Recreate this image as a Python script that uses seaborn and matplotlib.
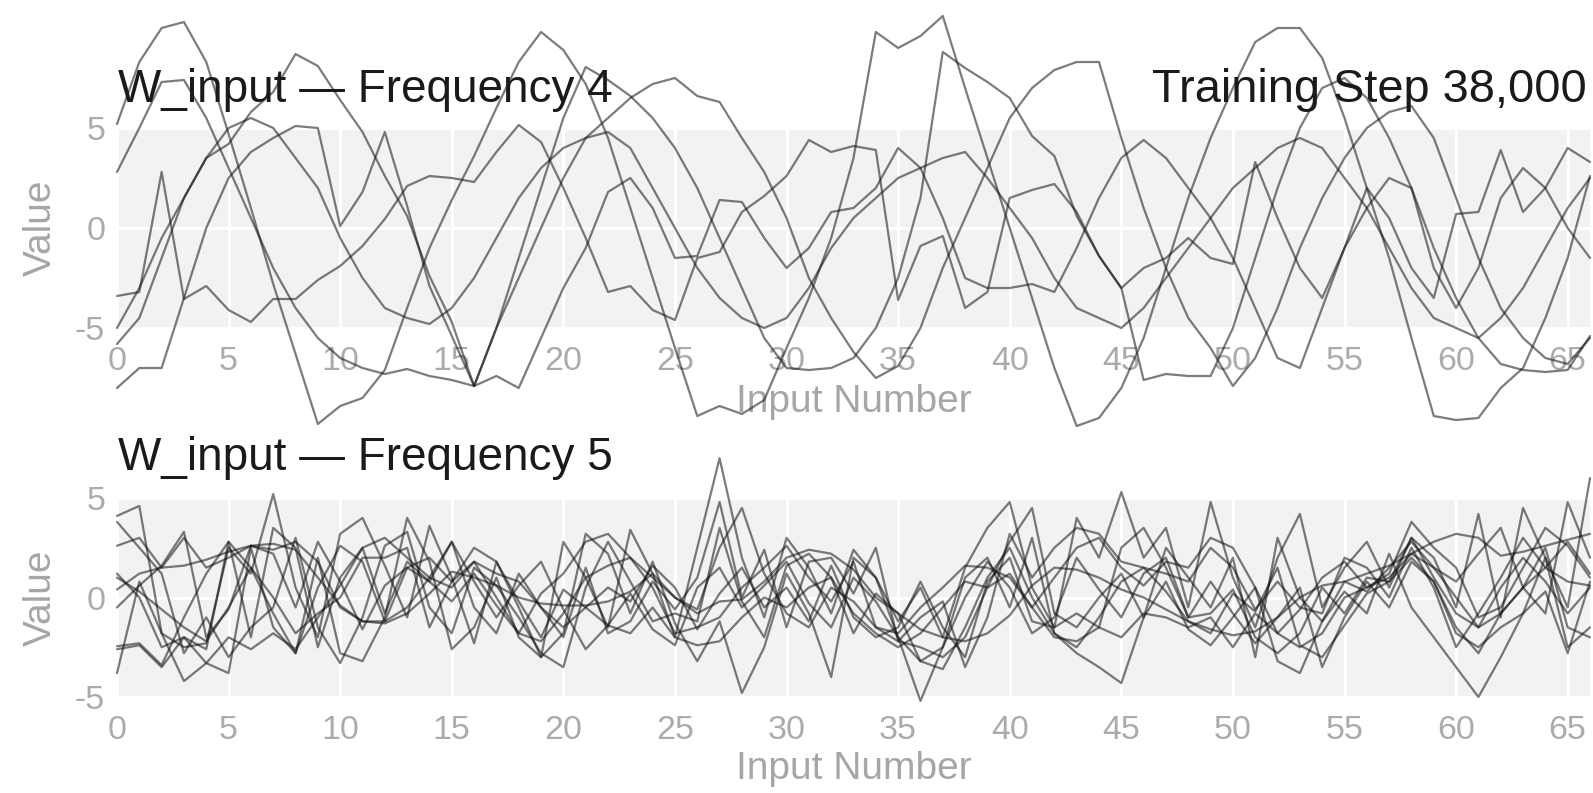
import matplotlib
matplotlib.use("Agg")
import matplotlib.pyplot as plt
import seaborn as sns
import pandas as pd

# ---------------- data ----------------
inputs = list(range(67))
x_ticks = list(range(0, 66, 5))
y_ticks = [-5, 0, 5]

freq4_line1 = [5.2, 8.3, 10.0, 10.3, 8.3, 4.7, 1.0, -2.8, -6.3, -9.8,
               -8.9, -8.5, -7.1, -4.0, -1.0, 1.4, 3.6, 6.0, 8.3, 9.8,
               8.9, 7.2, 4.5, 1.0, -2.5, -6.0, -9.4, -8.9, -9.3, -8.6,
               -6.0, -3.5, -0.5, 3.5, 9.8, 9.0, 9.6, 10.6, 7.0, 3.5,
               0.0, -3.5, -7.0, -9.9, -9.5, -8.0, -5.5, -2.0, 1.5, 4.5,
               7.0, 9.3, 10.0, 10.0, 8.5, 5.5, 2.0, -1.5, -5.5, -9.4,
               -9.6, -9.5, -8.0, -7.0, -4.5, -1.5, 2.6]
freq4_line2 = [-5.0, -3.0, -0.5, 1.5, 3.5, 4.2, 5.8, 6.8, 8.7, 8.1,
               6.4, 4.8, 2.6, 0.6, -2.4, -4.7, -7.9, -5.0, -2.5, 0.0,
               2.5, 4.5, 5.5, 6.5, 7.2, 7.5, 6.6, 6.3, 4.5, 2.8,
               0.5, -2.5, -4.5, -6.2, -7.5, -6.9, -5.0, -2.0, 0.5, 3.0,
               5.5, 7.0, 7.9, 8.3, 8.3, 4.5, 1.0, -2.0, -4.5, -6.0,
               -7.9, -6.5, -4.0, -1.0, 1.5, 3.5, 5.0, 5.8, 6.1, 4.5,
               1.5, -1.5, -4.0, -5.5, -6.5, -6.8, -5.5]
freq4_line3 = [-3.4, -3.2, 2.8, -3.55, -2.9, -4.1, -4.7, -3.55, -3.55, -2.6,
               -1.9, -0.9, 0.45, 2.1, 2.6, 2.5, 2.3, 3.8, 5.15, 4.3,
               2.0, -0.5, -3.2, -2.9, -4.1, -4.6, -1.5, -1.2, 0.8, 1.6,
               2.6, 4.4, 3.8, 4.1, 3.9, -3.6, -0.9, -0.4, -4.0, -3.2,
               1.5, 1.9, 2.2, 0.8, -1.4, -3.0, -2.0, -1.5, -0.5, -1.5,
               -1.8, 3.3, 0.5, -2.0, -3.5, -1.0, 2.0, 0.5, -2.0, -3.5,
               0.7, 0.8, 3.9, 0.8, 2.0, 4.0, 3.3]
freq4_line4 = [-8.0, -7.0, -7.0, -3.5, 0.0, 2.5, 3.8, 4.5, 5.1, 5.0,
               0.1, 1.8, 4.8, 1.1, -2.9, -5.4, -7.9, -7.4, -8.0, -5.5,
               -3.0, -1.0, 1.8, 2.5, 1.0, -1.5, -1.4, 1.4, 1.3, -0.5,
               -2.0, -1.0, 0.8, 1.0, 2.0, 4.0, 3.0, 0.5, -2.5, -3.0,
               -3.0, -2.8, -3.2, -1.0, 1.5, 3.5, 4.4, 3.5, 2.0, 0.5,
               -1.5, -4.0, -6.5, -7.0, -4.0, -1.0, 1.0, 2.5, 2.0, -2.0,
               -4.0, -2.0, 1.5, 3.0, 2.0, 0.0, -1.5]
freq4_line5 = [2.8, 5.0, 7.3, 7.4, 5.5, 3.0, 0.5, -2.0, -4.0, -5.5,
               -6.5, -7.0, -7.3, -7.05, -7.4, -7.6, -7.9, -5.0, -1.5, 2.0,
               5.5, 8.05, 7.4, 6.6, 5.5, 4.0, 2.0, -0.5, -3.0, -5.5,
               -7.0, -7.1, -7.0, -6.5, -5.0, -2.5, 1.5, 8.8, 8.0, 7.3,
               6.5, 4.6, 3.6, 0.6, -1.4, -3.0, -7.6, -7.3, -7.4, -7.4,
               -5.0, -1.5, 2.0, 5.0, 7.0, 7.5, 6.5, 4.5, 2.0, -1.0,
               -3.5, -5.5, -6.8, -7.1, -7.2, -7.1, -5.4]
freq4_line6 = [-5.8, -4.5, -1.5, 1.5, 3.5, 5.0, 5.5, 5.0, 3.5, 2.0,
               -0.5, -2.5, -4.0, -4.5, -4.8, -4.0, -2.5, -0.5, 1.5, 3.0,
               4.0, 4.5, 4.8, 4.0, 2.0, 0.0, -2.0, -3.5, -4.5, -5.0,
               -4.5, -3.0, -1.0, 0.5, 1.5, 2.5, 3.0, 3.5, 3.8, 2.5,
               1.0, -0.5, -2.5, -4.0, -4.5, -5.0, -4.0, -2.5, -1.0, 0.5,
               2.0, 3.0, 4.0, 4.5, 4.0, 2.5, 1.0, -1.0, -3.0, -4.5,
               -5.0, -5.5, -4.5, -3.0, -1.0, 1.0, 2.5]

freq5_line1 = [0.4, 1.2, 1.5, 1.6, 1.9, 2.3, 2.6, 2.7, 2.4, 1.0,
               -0.4, -1.2, -1.3, -0.8, 0.2, 1.3, 1.0, 0.6, 0.0, -0.3,
               -0.4, -0.4, -0.2, 0.3, 1.2, 0.0, -0.8, -0.2, -0.1, 0.8,
               2.0, 2.4, 2.2, 1.4, 0.0, -0.8, -1.6, -2.0, -2.2, -1.8,
               -0.9, 0.6, 1.5, 1.4, 1.0, 0.4, 0.0, -0.6, -1.2, -1.6,
               -1.9, -1.7, -1.0, 0.0, 0.6, 0.8, 1.2, 1.6, 2.2, 2.8,
               3.2, 3.0, 2.1, 2.3, 2.6, 2.9, 3.2]
freq5_line2 = [4.1, 4.6, -1.8, -2.5, -2.3, 2.5, 1.2, 5.2, 0.5, -2.0,
               3.2, 4.0, 1.6, -1.0, 3.6, 1.0, -2.3, 1.8, -0.5, -3.0,
               2.8, 1.0, -1.5, 3.4, 1.2, -2.0, 2.5, 7.0, 2.0, -1.0,
               3.0, 1.5, -0.8, 2.4, 1.0, -1.2, 0.5, -2.0, 1.5, 3.5,
               4.8, 0.5, -1.5, 4.0, 2.0, 5.3, 2.0, 3.5, -0.5, 4.8,
               1.0, -1.5, 2.0, 4.2, -0.5, 1.5, 2.8, 0.5, 3.0, 2.0,
               -0.5, 4.2, -1.0, 4.5, 2.0, -0.5, 6.0]
freq5_line3 = [3.8, 2.5, 1.2, -2.8, -1.0, -3.0, -1.5, -0.5, 3.0, -1.5,
               -3.3, -1.0, 2.6, 3.3, -0.5, -1.8, 1.5, 0.6, -1.0, -2.8,
               -3.5, 0.5, 2.8, 0.8, -1.2, -0.8, -1.2, 3.5, -0.2, -2.0,
               1.6, 2.2, 1.0, -1.8, 0.2, -0.8, -3.2, -2.5, 0.0, 1.8,
               0.5, -1.8, -1.0, 2.0, 0.4, -1.0, 1.2, 2.0, -1.0, 0.8,
               -0.8, -2.3, -1.0, 0.5, -3.5, -1.0, 0.8, -0.5, 1.8, 0.8,
               -1.5, -2.8, -0.8, 0.5, 2.5, -1.5, -2.0]
freq5_line4 = [-2.45, -2.3, -3.4, -1.0, 1.2, 2.8, 1.5, -0.8, -2.8, 0.5,
               2.6, 1.8, -1.2, -0.5, 1.0, 2.8, 0.8, -1.0, 0.6, 1.8,
               -0.6, -2.6, -1.4, 0.2, -1.6, -2.4, 0.5, 1.5, -0.5, 0.6,
               1.8, -0.3, -1.5, 1.0, -0.2, -2.0, -3.2, -3.6, -1.5, 1.0,
               2.5, 0.0, -1.8, -2.5, -1.0, 0.8, 1.5, 0.3, -1.2, -1.8,
               0.2, -0.7, 1.5, -2.4, -3.0, -1.4, 0.2, 0.8, 2.0, 0.8,
               -1.8, -2.5, -1.5, -0.8, 0.3, -2.8, 0.8]
freq5_line5 = [-3.8, 0.8, -1.8, -4.2, -3.3, -3.8, 2.5, -1.5, -2.8, 2.0,
               -2.8, -3.2, -1.0, 4.0, 1.8, -2.6, -1.5, 1.0, -2.0, -3.0,
               -1.8, 3.2, 2.2, -0.8, 1.8, -1.3, -3.2, -1.2, -4.8, -2.5,
               1.2, -0.8, -4.0, 2.0, 1.0, -2.0, -5.2, -2.5, 1.0, 2.0,
               -0.5, 3.0, -1.8, -2.8, -3.5, -4.3, -1.0, 0.8, -1.6, -2.4,
               -1.0, 0.5, -3.2, -3.8, -1.2, 0.3, -0.8, 2.2, -0.5, -2.0,
               -3.5, -5.0, -3.0, -0.8, 2.0, -2.5, -1.5]
freq5_line6 = [1.2, 0.0, -2.5, -2.0, -2.6, 2.8, -2.0, 3.5, 2.5, -2.5,
               1.0, 2.5, -0.8, 1.8, 0.8, 2.8, -0.5, -1.8, 1.2, -0.5,
               -2.0, 1.5, -1.8, -1.2, 0.8, -0.6, 1.0, 4.8, 0.0, 2.4,
               -1.5, 1.8, 2.0, 0.2, 2.5, -2.2, -2.5, -3.0, -2.0, 0.5,
               2.8, 4.5, -0.8, -1.5, 0.0, 1.2, -1.0, 2.5, 1.0, -0.5,
               2.0, -3.0, 3.0, 0.0, -1.2, 0.8, 0.3, 1.5, 2.8, 1.5,
               0.8, 2.2, 3.5, 0.5, -0.8, 4.8, 2.0]
freq5_line7 = [2.6, 3.0, 1.5, 3.0, 1.5, 2.0, 2.6, 2.4, 2.8, 1.8,
               -0.5, -1.2, -1.2, 1.5, 2.0, 0.8, 1.8, 0.0, -1.8, -2.2,
               -0.8, 1.0, 1.6, 2.0, 0.5, -1.8, -1.5, -1.0, 0.5, 1.5,
               2.6, 1.0, -0.2, 1.8, -1.5, -1.8, -0.5, 0.5, 1.6, 1.5,
               1.0, -0.5, 1.0, 2.5, 3.0, 1.5, 0.6, 1.8, 1.5, 3.0,
               2.5, 0.5, -1.8, -0.6, 1.0, 1.8, 0.5, 1.2, 3.8, 2.5,
               1.5, -1.0, -0.5, 1.5, 3.5, 2.6, 1.0]
freq5_line8 = [-2.6, -2.4, -3.5, -2.0, -3.3, -2.0, -2.6, -1.8, -2.6, -1.0,
               0.6, 2.5, 3.0, 2.0, 1.0, 0.5, 1.8, 1.2, 0.8, -0.5,
               -1.5, -0.5, -1.4, -1.8, -0.5, -2.0, -2.4, -2.2, -1.0, 0.0,
               -0.5, 0.5, 1.0, -0.8, -1.8, -2.5, -1.8, -0.5, 0.8, 0.5,
               1.2, -0.5, -2.0, -2.2, -1.5, -2.0, -0.8, -1.0, -1.5, -1.0,
               -2.5, -0.8, -1.8, -2.5, -1.8, 0.0, 0.5, 1.0, 2.2, 1.5,
               0.0, -1.5, -0.8, 0.5, 1.5, 0.8, 0.6]
freq5_line9 = [-0.5, 0.6, 1.6, 3.3, -2.0, -0.6, 2.6, 2.2, -0.5, 2.8,
               0.8, -1.6, 0.6, 1.5, 0.8, -0.2, 1.2, -0.4, -1.8, 0.2,
               1.2, 2.8, 3.2, 2.0, 1.0, 0.0, -0.6, 2.5, 4.5, 1.2,
               -0.8, -1.5, 0.5, -0.2, -1.5, -2.2, -1.0, -0.2, -3.5, -1.0,
               3.2, 1.0, 2.5, 3.5, 3.2, 1.8, 1.5, 1.2, 0.8, 2.5,
               1.5, -0.6, 0.8, -0.5, -0.8, 2.0, 1.5, 0.0, 2.5, 0.5,
               -2.5, -0.8, 1.0, 3.0, 1.5, 2.8, 1.2]
freq5_line10 = [1.0, 0.3, -0.6, -1.5, -2.2, -0.5, 1.5, 0.0, -1.8, -0.8,
                0.0, 2.0, 2.0, 2.5, -1.5, 0.8, 2.5, 1.8, -0.2, -2.0,
                0.4, -0.5, 0.5, -0.2, 1.6, 0.5, -1.6, 0.2, 1.5, -0.5,
                0.5, -1.2, 1.6, -1.0, -2.0, -1.5, 0.8, -1.5, -3.0, 0.8,
                2.0, -1.2, -1.5, -0.8, -1.5, 2.5, 3.5, 1.5, -1.0, -0.8,
                0.4, -2.0, -2.8, -1.8, 0.5, -0.8, 1.0, 0.8, 3.0, 1.0,
                -0.8, -1.5, 0.5, 2.0, 0.8, -0.8, 0.5]

freq4_lines = [freq4_line1, freq4_line2, freq4_line3, freq4_line4,
               freq4_line5, freq4_line6]
freq5_lines = [freq5_line1, freq5_line2, freq5_line3, freq5_line4,
               freq5_line5, freq5_line6, freq5_line7, freq5_line8,
               freq5_line9, freq5_line10]

title_top = "W_input \u2014 Frequency 4"
title_bottom = "W_input \u2014 Frequency 5"
step_label = "Training Step 38,000"


def to_long(lines):
    rows = []
    for k, vals in enumerate(lines):
        for i, v in zip(inputs, vals):
            rows.append({"input": i, "value": v, "line": k})
    return pd.DataFrame(rows)


# ---------------- style ----------------
sns.set_style("white")
plt.rcParams["font.family"] = ["Liberation Sans", "DejaVu Sans"]
plt.rcParams["axes.unicode_minus"] = False

W, H = 1593, 793
fig = plt.figure(figsize=(W / 100, H / 100), dpi=100)

AX_L, AX_R = 117, 1590


def add_ax(top_px, bottom_px):
    return fig.add_axes([AX_L / W, 1 - bottom_px / H,
                         (AX_R - AX_L) / W, (bottom_px - top_px) / H])


ax1 = add_ax(128, 328)
ax2 = add_ax(498, 697)

band = "#f1f2f4"
tick_col = "#ababab"
lab_col = "#a6a6a6"

for ax, lines, xl_y in [(ax1, freq4_lines, -0.37), (ax2, freq5_lines, -0.362)]:
    df = to_long(lines)
    sns.lineplot(data=df, x="input", y="value", units="line", estimator=None,
                 color="#111111", alpha=0.55, linewidth=1.6, ax=ax, legend=False)
    for ln in ax.lines:
        ln.set_clip_on(False)
    ax.set_facecolor(band)
    ax.set_xlim(0, 66)
    ax.set_ylim(-5, 5)
    ax.set_xticks(x_ticks)
    ax.set_yticks(y_ticks)
    ax.grid(True, color="white", linewidth=2.2)
    ax.set_axisbelow(True)
    for s in ax.spines.values():
        s.set_visible(False)
    ax.tick_params(axis="both", length=0, labelsize=24.5, labelcolor=tick_col)
    ax.tick_params(axis="x", pad=13)
    ax.tick_params(axis="y", pad=8.5)
    ax.set_xlabel("Input Number", fontsize=28, color=lab_col, va="center")
    ax.xaxis.set_label_coords(0.5, xl_y)
    ax.set_ylabel("Value", fontsize=28, color=lab_col, va="center")
    ax.yaxis.set_label_coords(-0.052, 0.5)

fig.text(118 / W, 1 - 102 / H, title_top, fontsize=33, color="#1a1a1a",
         ha="left", va="baseline")
fig.text(1587 / W, 1 - 102 / H, step_label, fontsize=33.8, color="#1a1a1a",
         ha="right", va="baseline")
fig.text(118 / W, 1 - 470 / H, title_bottom, fontsize=33, color="#1a1a1a",
         ha="left", va="baseline")

fig.savefig("out.png", dpi=100)
